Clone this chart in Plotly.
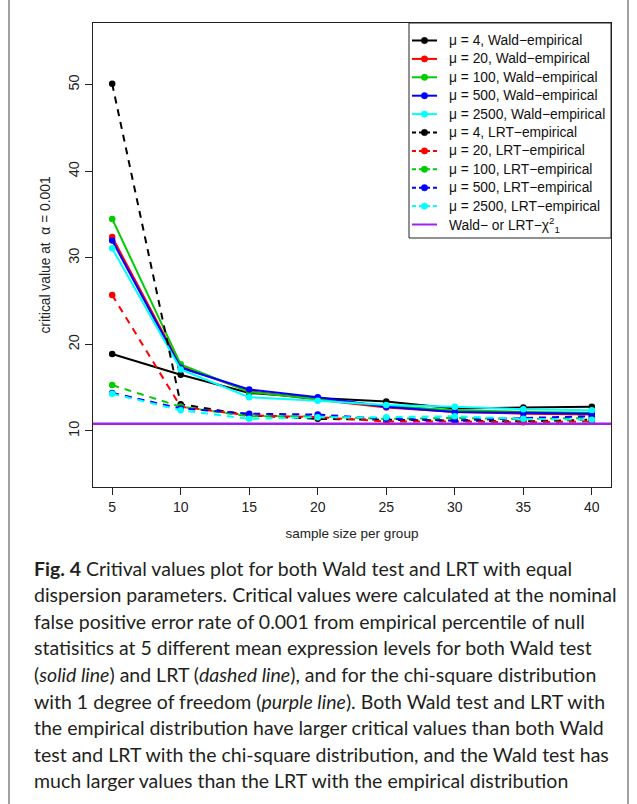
import plotly.graph_objects as go

# ---------------- data ----------------
sample_size = [5, 10, 15, 20, 25, 30, 35, 40]
mu_levels = ["4", "20", "100", "500", "2500"]
series_colors = ["#000000", "#FF0000", "#00CD00", "#0000FF", "#00FFFF"]

wald_mu4 = [18.9, 16.5, 14.4, 13.8, 13.4, 12.6, 12.7, 12.8]
wald_mu20 = [32.4, 17.5, 14.6, 13.6, 12.7, 12.2, 12.0, 11.9]
wald_mu100 = [34.5, 17.7, 14.5, 13.7, 12.9, 12.4, 12.2, 12.1]
wald_mu500 = [32.0, 17.3, 14.8, 13.9, 12.8, 12.2, 12.1, 12.0]
wald_mu2500 = [31.1, 17.1, 13.9, 13.5, 13.0, 12.8, 12.5, 12.4]

lrt_mu4 = [50.1, 13.1, 11.8, 11.4, 11.3, 11.2, 11.1, 11.3]
lrt_mu20 = [25.7, 12.8, 11.8, 11.6, 11.1, 11.1, 11.0, 11.1]
lrt_mu100 = [15.3, 12.8, 11.7, 11.7, 11.4, 11.5, 11.4, 11.5]
lrt_mu500 = [14.4, 12.6, 12.0, 11.9, 11.4, 11.2, 11.5, 11.7]
lrt_mu2500 = [14.3, 12.4, 11.4, 11.6, 11.6, 11.7, 11.4, 11.3]

chi2_critical = 10.83
chi2_color = "#A020F0"
chi2_label = "Wald\u2212 or LRT\u2212\u03c7<sup>2</sup><sub>1</sub>"

x_ticks = [5, 10, 15, 20, 25, 30, 35, 40]
y_ticks = [10, 20, 30, 40, 50]

caption_lines = [
    "<b>Fig. 4</b> Critival values plot for both Wald test and LRT with equal",
    "dispersion parameters. Critical values were calculated at the nominal",
    "false positive error rate of 0.001 from empirical percentile of null",
    "statisitics at 5 different mean expression levels for both Wald test",
    "(<i>solid line</i>) and LRT (<i>dashed line</i>), and for the chi-square distribution",
    "with 1 degree of freedom (<i>purple line</i>). Both Wald test and LRT with",
    "the empirical distribution have larger critical values than both Wald",
    "test and LRT with the chi-square distribution, and the Wald test has",
    "much larger values than the LRT with the empirical distribution",
]

# ---------------- layout geometry (pixels) ----------------
W, H = 637, 804
L, R, T, B = 93, 611, 23, 487
PW, PH = R - L, B - T


def px_x(p):
    return (p - L) / PW


def px_y(p):
    return (B - p) / PH


AX_FONT = "Liberation Sans, Arial, Helvetica, sans-serif"
DASH = "7px,6px"

fig = go.Figure()

wald_sets = [wald_mu4, wald_mu20, wald_mu100, wald_mu500, wald_mu2500]
lrt_sets = [lrt_mu4, lrt_mu20, lrt_mu100, lrt_mu500, lrt_mu2500]

legend_entries = []  # (label, color, dash, marker)

for mu, col, vals in zip(mu_levels, series_colors, wald_sets):
    name = f"\u03bc = {mu}, Wald\u2212empirical"
    fig.add_trace(go.Scatter(
        x=sample_size, y=vals, mode="lines+markers", name=name,
        line=dict(color=col, width=2),
        marker=dict(color=col, size=6.5),
    ))
    legend_entries.append((name, col, "solid", True))

for mu, col, vals in zip(mu_levels, series_colors, lrt_sets):
    name = f"\u03bc = {mu}, LRT\u2212empirical"
    fig.add_trace(go.Scatter(
        x=sample_size, y=vals, mode="lines+markers", name=name,
        line=dict(color=col, width=2, dash=DASH),
        marker=dict(color=col, size=6.5),
    ))
    legend_entries.append((name, col, DASH, True))

fig.add_hline(y=chi2_critical, line=dict(color=chi2_color, width=2.5), layer="above")
legend_entries.append((chi2_label, chi2_color, "solid", False))

# ---------------- legend box drawn by hand (R style) ----------------
LG_L, LG_R, LG_T, LG_B = 409, 611, 23, 238
fig.add_shape(type="rect", xref="paper", yref="paper",
              x0=px_x(LG_L), x1=px_x(LG_R), y0=px_y(LG_B), y1=px_y(LG_T),
              line=dict(color="#222222", width=1), fillcolor="white", layer="above")
row0, row_step = 40.5, 18.4
for i, (label, col, dash, has_marker) in enumerate(legend_entries):
    yy = px_y(row0 + i * row_step)
    fig.add_shape(type="line", xref="paper", yref="paper",
                  x0=px_x(412), x1=px_x(437), y0=yy, y1=yy,
                  line=dict(color=col, width=2, dash=("4px,3px" if dash != "solid" else "solid")),
                  layer="above")
    if has_marker:
        r = 3.2
        fig.add_shape(type="circle", xref="paper", yref="paper",
                      x0=px_x(424.5 - r), x1=px_x(424.5 + r),
                      y0=yy - r / PH, y1=yy + r / PH,
                      line=dict(color=col, width=0.5), fillcolor=col, layer="above")
    fig.add_annotation(
        text=label, xref="paper", yref="paper",
        x=px_x(447), y=yy, xanchor="left", yanchor="middle", showarrow=False,
        font=dict(family=AX_FONT, size=13.8, color="#111111"),
    )

# ---------------- caption ----------------
cap_top = 568
cap_step = 26.6
for i, line in enumerate(caption_lines):
    fig.add_annotation(
        text=line, xref="paper", yref="paper",
        x=px_x(32), y=px_y(cap_top + i * cap_step),
        xanchor="left", yanchor="middle", showarrow=False,
        font=dict(family="Lato, Noto Sans, sans-serif", size=19.5, color="#231f20"),
        align="left",
    )

# outer frame lines
for xp in (9, 628):
    fig.add_shape(type="line", xref="paper", yref="paper",
                  x0=px_x(xp), x1=px_x(xp), y0=px_y(0), y1=px_y(H),
                  line=dict(color="#444444", width=1))

fig.update_layout(
    width=W, height=H,
    margin=dict(l=L, r=W - R, t=T, b=H - B, pad=0),
    paper_bgcolor="white", plot_bgcolor="white",
    font=dict(family=AX_FONT, size=14, color="#222222"),
    showlegend=False,
    xaxis=dict(
        range=[3.6, 41.4], tickmode="array", tickvals=x_ticks,
        ticktext=[str(v) for v in x_ticks],
        showgrid=False, zeroline=False,
        showline=True, linecolor="#222222", linewidth=1, mirror=True,
        ticks="outside", ticklen=7, tickcolor="#222222", tickwidth=1,
        tickfont=dict(size=14),
        title=dict(text="sample size per group", font=dict(size=13.5), standoff=14),
    ),
    yaxis=dict(
        range=[3.53, 57.13], tickmode="array", tickvals=y_ticks,
        ticktext=[str(v) for v in y_ticks],
        showgrid=False, zeroline=False,
        showline=True, linecolor="#222222", linewidth=1, mirror=True,
        ticks="outside", ticklen=7, tickcolor="#222222", tickwidth=1,
        tickangle=-90, tickfont=dict(size=14.5),
        title=dict(text="critical value at  \u03b1 = 0.001", font=dict(size=13.8), standoff=12),
    ),
)

fig.write_html("out.html")
